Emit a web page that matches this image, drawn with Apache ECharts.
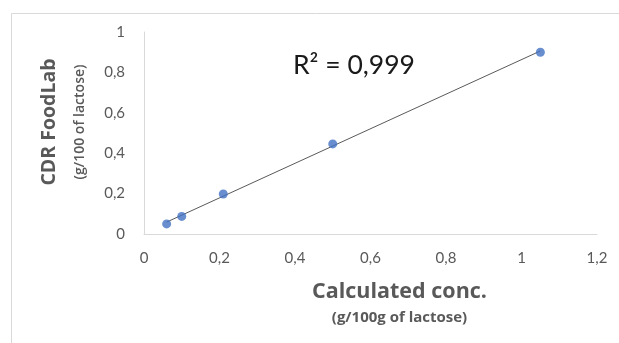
<!DOCTYPE html>
<html><head><meta charset="utf-8">
<script src="https://cdn.jsdelivr.net/npm/echarts@6/dist/echarts.min.js"></script>
<style>html,body{margin:0;padding:0;background:#fff}#c{width:619px;height:343px}</style>
</head><body><div id="c"></div>
<script>
var xValues = [0.06, 0.10, 0.21, 0.50, 1.05];
var yValues = [0.05, 0.087, 0.198, 0.446, 0.90];
var xTicks = ['0','0,2','0,4','0,6','0,8','1','1,2'];
var yTicks = ['0','0,2','0,4','0,6','0,8','1'];
var rSquaredLabel = 'R² = 0,999';

// linear trendline by least squares
var n = xValues.length, mx = 0, my = 0;
for (var i = 0; i < n; i++) { mx += xValues[i]; my += yValues[i]; }
mx /= n; my /= n;
var sxx = 0, sxy = 0;
for (var i = 0; i < n; i++) { sxx += (xValues[i]-mx)*(xValues[i]-mx); sxy += (xValues[i]-mx)*(yValues[i]-my); }
var slope = sxy/sxx, icpt = my - slope*mx;
var xmin = Math.min.apply(null, xValues), xmax = Math.max.apply(null, xValues);
var trend = [[xmin, icpt + slope*xmin], [xmax, icpt + slope*xmax]];

var font = 'Lato';
var tfont = 'Open Sans';
var chart = echarts.init(document.getElementById('c'));
chart.setOption({
  animation: false,
  textStyle: {fontFamily: font},
  grid: {left: 144, right: 22, top: 32, bottom: 109},
  graphic: [
    {type: 'rect', shape: {x: 11.5, y: 13.5, width: 640, height: 400}, style: {fill: 'none', stroke: '#d9d9d9', lineWidth: 1}, silent: true}
  ],
  xAxis: {
    type: 'value', min: 0, max: 1.2, interval: 0.2,
    axisLine: {show: true, lineStyle: {color: '#d9d9d9'}},
    axisTick: {show: false}, splitLine: {show: false},
    axisLabel: {color: '#595959', fontSize: 15, margin: 17, fontFamily: font,
      formatter: function (v) { return xTicks[Math.round(v/0.2)]; }},
    name: '{a|Calculated conc.}\n{b|(g/100g of lactose)}',
    nameLocation: 'middle', nameGap: 45,
    nameTextStyle: {padding: [0, 0, 0, 58], rich: {
      a: {fontSize: 21.5, fontWeight: 'bold', color: '#595959', fontFamily: tfont, lineHeight: 26},
      b: {fontSize: 15, fontWeight: 'bold', color: '#595959', fontFamily: tfont, lineHeight: 26}
    }}
  },
  yAxis: {
    type: 'value', min: 0, max: 1, interval: 0.2,
    axisLine: {show: true, lineStyle: {color: '#d9d9d9'}},
    axisTick: {show: false}, splitLine: {show: false},
    axisLabel: {color: '#595959', fontSize: 15, margin: 19, fontFamily: font,
      formatter: function (v) { return yTicks[Math.round(v/0.2)]; }},
    name: '{a|CDR FoodLab}\n{b|(g/100 of lactose)}',
    nameLocation: 'middle', nameGap: 47, nameRotate: 90,
    nameTextStyle: {padding: [0, 0, 0, 22], rich: {
      a: {fontSize: 19.5, fontWeight: 'bold', color: '#595959', fontFamily: tfont, lineHeight: 28},
      b: {fontSize: 14, fontWeight: 600, color: '#595959', fontFamily: tfont, lineHeight: 34}
    }}
  },
  series: [
    {type: 'line', data: trend, symbol: 'none', lineStyle: {color: '#595959', width: 1}, silent: true, z: 1},
    {type: 'scatter', data: xValues.map(function (x, i) { return [x, yValues[i]]; }),
     symbolSize: 9, itemStyle: {color: '#4472C4'}, z: 3}
  ],
  title: {text: rSquaredLabel, left: 288, top: 47,
    textStyle: {fontSize: 26.5, fontWeight: 'normal', color: '#1a1a1a', fontFamily: font}}
});
</script></body></html>
